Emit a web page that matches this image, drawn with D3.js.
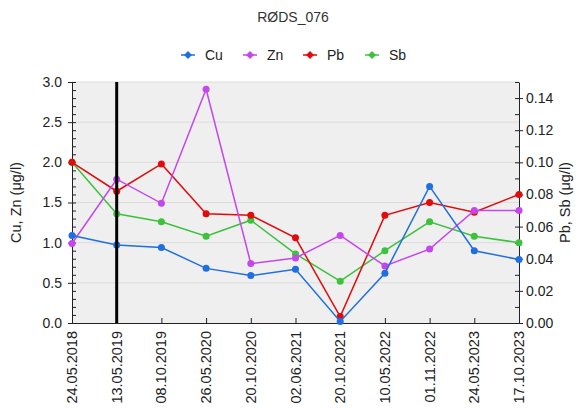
<!DOCTYPE html>
<html>
<head>
<meta charset="utf-8">
<script src="https://cdn.jsdelivr.net/npm/d3@7"></script>
<style>
    body { margin: 0; background: #fff; }
    text { font-family: "Liberation Sans", Arial, sans-serif; fill: #222; }
</style>
</head>
<body>
<div id="content"></div>
<script>
var dates = ["24.05.2018", "13.05.2019", "08.10.2019", "26.05.2020", "20.10.2020", "02.06.2021",
    "20.10.2021", "10.05.2022", "01.11.2022", "24.05.2023", "17.10.2023"];

// left axis (μg/l)
var cu = [1.09, 0.97, 0.94, 0.68, 0.59, 0.67, 0.02, 0.62, 1.70, 0.90, 0.79];
var zn = [0.99, 1.79, 1.49, 2.91, 0.74, 0.81, 1.09, 0.71, 0.92, 1.40, 1.40];
// right axis (μg/l)
var pb = [0.100, 0.082, 0.099, 0.068, 0.067, 0.053, 0.004, 0.067, 0.075, 0.069, 0.080];
var sb = [0.100, 0.068, 0.063, 0.054, 0.064, 0.043, 0.026, 0.045, 0.063, 0.054, 0.050];

var leftTicks = [0, 0.5, 1, 1.5, 2, 2.5, 3];
var rightTicks = [0, 0.02, 0.04, 0.06, 0.08, 0.10, 0.12, 0.14];
var markerDate = "13.05.2019";

var series = [
    { name: "Cu", values: cu, axis: "left", color: "#1f6fe0" },
    { name: "Zn", values: zn, axis: "left", color: "#c646ee" },
    { name: "Pb", values: pb, axis: "right", color: "#e20a0a" },
    { name: "Sb", values: sb, axis: "right", color: "#3cc23c" }
];

var W = 583, H = 408;
var margin = { top: 82, right: 64, bottom: 85, left: 72 },
    width = W - margin.left - margin.right,
    height = H - margin.top - margin.bottom;

var svg = d3.select("div#content").append("svg")
    .attr("width", W)
    .attr("height", H);

svg.append("text")
    .attr("x", 293).attr("y", 22)
    .attr("text-anchor", "middle")
    .style("font-size", "14px")
    .style("fill", "#333")
    .text("RØDS_076");

// legend
var legX = [188, 250, 310, 372];
series.forEach(function(s, i) {
    var g = svg.append("g").attr("transform", "translate(" + legX[i] + ",55)");
    g.append("line").attr("x1", -7).attr("x2", 7).attr("y1", 0).attr("y2", 0)
        .attr("stroke", s.color).attr("stroke-width", 1.5);
    g.append("path").attr("d", d3.symbol(d3.symbolDiamond2, 40)())
        .attr("fill", s.color);
    g.append("text").attr("x", 17).attr("y", 5)
        .style("font-size", "14px")
        .text(s.name);
});

var plot = svg.append("g")
    .attr("transform", "translate(" + margin.left + "," + margin.top + ")");

var x = d3.scalePoint().domain(dates).range([0, width]);
var yL = d3.scaleLinear().domain([0, 3]).range([height, 0]);
var yR = d3.scaleLinear().domain([0, 0.15]).range([height, 0]);

plot.append("rect")
    .attr("width", width).attr("height", height)
    .attr("fill", "#efefef");

plot.selectAll(".grid")
    .data(leftTicks.slice(1))
    .enter().append("line")
    .attr("x1", 0).attr("x2", width)
    .attr("y1", function(d) { return yL(d); })
    .attr("y2", function(d) { return yL(d); })
    .attr("stroke", "#dcdcdc");

// minor ticks (inward)
plot.append("g")
    .call(d3.axisRight(yL).ticks(30).tickSize(4).tickFormat(""))
    .call(function(g) { g.select(".domain").remove(); })
    .selectAll("line").attr("stroke", "#222");
plot.append("g")
    .attr("transform", "translate(" + width + ",0)")
    .call(d3.axisLeft(yR).tickValues(d3.range(0, 0.151, 0.01)).tickSize(4).tickFormat(""))
    .call(function(g) { g.select(".domain").remove(); })
    .selectAll("line").attr("stroke", "#222");

// major axes
var axL = plot.append("g")
    .call(d3.axisLeft(yL).tickValues(leftTicks).tickSize(4).tickPadding(6)
        .tickSizeOuter(0).tickFormat(d3.format(".1f")));
var axR = plot.append("g")
    .attr("transform", "translate(" + width + ",0)")
    .call(d3.axisRight(yR).tickValues(rightTicks).tickSize(4).tickPadding(3)
        .tickSizeOuter(0).tickFormat(d3.format(".2f")));
[axL, axR].forEach(function(a) {
    a.selectAll("text").style("font-size", "14px").attr("fill", "#222");
    a.selectAll("line, path").attr("stroke", "#222");
});

var axB = plot.append("g")
    .attr("transform", "translate(0," + height + ")")
    .call(d3.axisTop(x).tickSize(5).tickSizeOuter(0).tickFormat(""));
axB.selectAll("line, path").attr("stroke", "#222");

plot.selectAll(".xlab")
    .data(dates)
    .enter().append("text")
    .attr("transform", function(d) {
        return "translate(" + (x(d) + 5) + "," + (height + 8) + ") rotate(-90)";
    })
    .attr("text-anchor", "end")
    .style("font-size", "14.5px")
    .text(function(d) { return d; });

svg.append("text")
    .attr("transform", "translate(21," + (margin.top + height / 2) + ") rotate(-90)")
    .attr("text-anchor", "middle")
    .style("font-size", "14.5px")
    .text("Cu, Zn (μg/l)");

svg.append("text")
    .attr("transform", "translate(570," + (margin.top + height / 2) + ") rotate(-90)")
    .attr("text-anchor", "middle")
    .style("font-size", "14.5px")
    .text("Pb, Sb (μg/l)");

// series, drawn back to front
series.slice().reverse().forEach(function(s) {
    var y = s.axis === "left" ? yL : yR;
    var line = d3.line()
        .x(function(d, i) { return x(dates[i]); })
        .y(function(d) { return y(d); });
    plot.append("path")
        .datum(s.values)
        .attr("d", line)
        .attr("fill", "none")
        .attr("stroke", s.color)
        .attr("stroke-width", 1.5);
    plot.selectAll(null)
        .data(s.values)
        .enter().append("circle")
        .attr("cx", function(d, i) { return x(dates[i]); })
        .attr("cy", function(d) { return y(d); })
        .attr("r", 3.5)
        .attr("fill", s.color);
});

plot.append("line")
    .attr("x1", x(markerDate)).attr("x2", x(markerDate))
    .attr("y1", 0).attr("y2", height)
    .attr("stroke", "#000")
    .attr("stroke-width", 3);
</script>
</body>
</html>
